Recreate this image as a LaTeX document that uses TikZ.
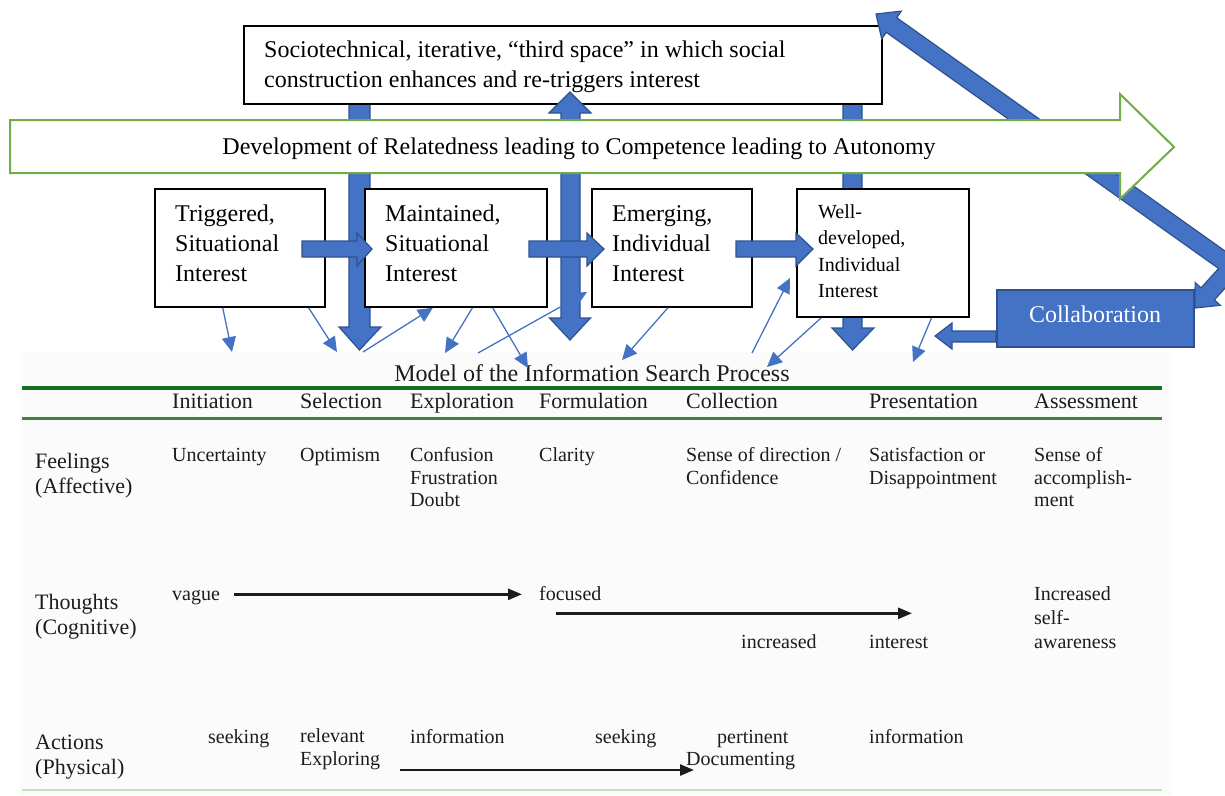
\documentclass[tikz,border=0pt]{standalone}
\usepackage{fontspec}
\setmainfont{Liberation Serif}
\usetikzlibrary{arrows.meta,calc}
\definecolor{arrblue}{RGB}{68,114,196}
\definecolor{arrborder}{RGB}{47,82,143}
\definecolor{relgreen}{RGB}{112,173,71}
\definecolor{rulegreen}{RGB}{22,112,30}
\definecolor{palegreen}{RGB}{185,228,185}
\definecolor{tablebg}{RGB}{251,251,251}
\definecolor{ink}{RGB}{28,28,28}

\begin{document}
% multi-line nodes are anchored at the baseline of their last line
\begin{tikzpicture}[x=1pt,y=-1pt,
  stagebox/.style={draw=black,line width=1.8pt,fill=white,inner sep=0pt,anchor=north west},
  blockarrow/.style={fill=arrblue,draw=arrborder,line width=1.2pt,line join=miter},
  thinarrow/.style={draw=arrblue,line width=1.3pt,-{Triangle[length=15pt,width=14pt]}},
  flowarrow/.style={draw=ink,line width=2.6pt,-{Triangle[length=14pt,width=11pt]}},
  boxtext/.style={anchor=base west,inner sep=0pt,align=left,font=\fontsize{24}{30}\selectfont},
  smallboxtext/.style={anchor=base west,inner sep=0pt,align=left,font=\fontsize{20}{26.5}\selectfont},
  headtext/.style={anchor=base west,inner sep=0pt,text=ink,font=\fontsize{22}{25}\selectfont},
  rowlabel/.style={anchor=base west,inner sep=0pt,align=left,text=ink,font=\fontsize{22}{25}\selectfont},
  celltext/.style={anchor=base west,inner sep=0pt,align=left,text=ink,font=\fontsize{20}{22.5}\selectfont},
]
\useasboundingbox (0,0) rectangle (1225,795);
\clip (0,0) rectangle (1225,795);

% ---------- Information Search Process table ----------
\fill[tablebg] (20,352) rectangle (1172,795);
\node[anchor=base,inner sep=0pt,text=ink,font=\fontsize{24}{28}\selectfont] (isptitle) at (592,381) {Model of the Information Search Process};
\draw[rulegreen,line width=4pt] (22,388) -- (1162,388);
\draw[rulegreen!85,line width=2.6pt] (22,418.5) -- (1162,418.5);
\draw[palegreen,line width=1.6pt] (22,790) -- (1162,790);

\node[headtext] (hinit) at (172,408) {Initiation};
\node[headtext] (hsel)  at (300,408) {Selection};
\node[headtext] (hexp)  at (410,408) {Exploration};
\node[headtext] (hform) at (539,408) {Formulation};
\node[headtext] (hcoll) at (686,408) {Collection};
\node[headtext] (hpres) at (869,408) {Presentation};
\node[headtext] (hass)  at (1034,408) {Assessment};

% feelings
\node[rowlabel] (lfeel) at (35,493) {Feelings\\(Affective)};
\node[celltext] (f1) at (172,461.7) {Uncertainty};
\node[celltext] (f2) at (300,461.7) {Optimism};
\node[celltext] (f3) at (410,506.7) {Confusion\\Frustration\\Doubt};
\node[celltext] (f4) at (539,461.7) {Clarity};
\node[celltext] (f5) at (686,484.2) {Sense of direction /\\Confidence};
\node[celltext] (f6) at (869,484.2) {Satisfaction or\\Disappointment};
\node[celltext] (f7) at (1034,506.7) {Sense of\\accomplish-\\ment};

% thoughts
\node[rowlabel] (lthink) at (35,634) {Thoughts\\(Cognitive)};
\node[celltext] (vague) at (172,600.7) {vague};
\node[celltext] (focused) at (539,600.7) {focused};
\node[celltext] (incr) at (741,648.3) {increased};
\node[celltext] (intr) at (869,648.3) {interest};
\node[celltext,font=\fontsize{20}{23.8}\selectfont] (aware) at (1034,648.3) {Increased\\self-\\awareness};
\coordinate (vagueS) at (234,594.3);
\coordinate (vagueE) at (522,594.3);
\coordinate (focS) at (556,613.3);
\coordinate (focE) at (912,613.3);
\draw[flowarrow] (vagueS) -- (vagueE);
\draw[flowarrow] (focS) -- (focE);

% actions
\node[rowlabel] (lact) at (35,774.3) {Actions\\(Physical)};
\node[celltext] (a1) at (208,743.3) {seeking};
\node[celltext] (a2) at (300,765.3) {relevant\\Exploring};
\node[celltext] (a3) at (410,743.3) {information};
\node[celltext] (a4) at (595,743.3) {seeking};
\node[celltext] (a5) at (717,743.3) {pertinent};
\node[celltext] (a6) at (686,765.3) {Documenting};
\node[celltext] (a7) at (869,743.3) {information};
\coordinate (actS) at (400,770);
\coordinate (actE) at (694,770);
\draw[flowarrow] (actS) -- (actE);

% ---------- upper interest model ----------
% downward arrows running behind the third-space box
\draw[blockarrow] (349,95) -- (370,95) -- (370,327) -- (381,327) -- (359.5,350) -- (339,327) -- (349,327) -- cycle;
\draw[blockarrow] (843,95) -- (862,95) -- (862,328) -- (874,328) -- (852.5,350) -- (832,328) -- (843,328) -- cycle;

\node[stagebox,minimum width=638pt,minimum height=78pt] (third) at (243,25) {};
\node[boxtext] (thirdtxt) at (264,87) {Sociotechnical, iterative, “third space” in which social\\construction enhances and re-triggers interest};

% two-way arrow between third space and the search process
\draw[blockarrow] (570,92) -- (591,113) -- (580,113) -- (580,318) -- (590.5,318) -- (570,340)
  -- (549.5,318) -- (561,318) -- (561,113) -- (549,113) -- cycle;

% collaboration
\node[fill=arrblue,draw=arrborder,line width=1.5pt,minimum width=197pt,minimum height=57pt,anchor=north west,inner sep=0pt] (collab) at (996,289) {};
\node[anchor=base,inner sep=0pt,text=white,font=\fontsize{24}{28}\selectfont] (collabtxt) at (1095,322) {Collaboration};
\draw[blockarrow] (996,331) -- (952,331) -- (952,323) -- (935,336) -- (952,349) -- (952,342) -- (996,342) -- cycle;

% bent two-headed arrow from collaboration back to the third space
\draw[blockarrow] (876,14) -- (901.3,11.1) -- (896.7,17.7) -- (1245.4,265.5) -- (1214.4,299.9) -- (1220.3,305.3)
  -- (1195,308) -- (1195.1,282.5) -- (1201.0,287.9) -- (1218.6,268.5) -- (886.3,32.3) -- (881.7,38.9) -- cycle;

% relatedness -> competence -> autonomy
\draw[draw=relgreen,line width=2pt,fill=white,line join=miter] (10,120) -- (1120,120) -- (1120,94) -- (1174,147)
  -- (1120,199) -- (1120,173) -- (10,173) -- cycle;
\node[anchor=base,inner sep=0pt,font=\fontsize{24}{28}\selectfont] (reltxt) at (579,154) {Development of Relatedness leading to Competence leading to Autonomy};

% interest phases
\node[stagebox,minimum width=170pt,minimum height=118pt] (trig) at (154,188) {};
\node[stagebox,minimum width=182pt,minimum height=118pt] (maint) at (364,188) {};
\node[stagebox,minimum width=160pt,minimum height=118pt] (emer) at (591,188) {};
\node[stagebox,minimum width=172pt,minimum height=128pt] (well) at (796,188) {};
\node[boxtext] (trigtxt) at (175,281) {Triggered,\\Situational\\Interest};
\node[boxtext] (mainttxt) at (385,281) {Maintained,\\Situational\\Interest};
\node[boxtext] (emertxt) at (612,281) {Emerging,\\Individual\\Interest};
\node[smallboxtext] (welltxt) at (818,297.5) {Well-\\developed,\\Individual\\Interest};

% progression between phases
\draw[blockarrow] (302,241) -- (357,241) -- (357,233) -- (372,249) -- (357,266) -- (357,257) -- (302,257) -- cycle;
\draw[blockarrow] (529,241) -- (587,241) -- (587,233) -- (604,249) -- (587,266) -- (587,257) -- (529,257) -- cycle;
\draw[blockarrow] (736,241) -- (796,241) -- (796,233) -- (813,249) -- (796,266) -- (796,257) -- (736,257) -- cycle;

% links between phases and search stages
\coordinate (p1) at (232,352);
\coordinate (p2) at (337,352);
\coordinate (p3) at (363,352);
\coordinate (p4) at (445,353);
\coordinate (p5) at (528,368);
\coordinate (p6) at (478,353);
\coordinate (p6e) at (587,292);
\coordinate (p7) at (622,360);
\coordinate (p8) at (752,353);
\coordinate (p8e) at (790,278);
\coordinate (p9) at (767,367);
\coordinate (p10) at (913,362);
\draw[thinarrow] ($(trig.south west)!0.40!(trig.south east)$) -- (p1);
\draw[thinarrow] ($(trig.south west)!0.90!(trig.south east)$) -- (p2);
\draw[thinarrow] (p3) -- ($(maint.south west)!0.375!(maint.south east)$);
\draw[thinarrow] ($(maint.south west)!0.59!(maint.south east)$) -- (p4);
\draw[thinarrow] ($(maint.south west)!0.70!(maint.south east)$) -- (p5);
\draw[thinarrow] (p6) -- (p6e);
\draw[thinarrow] ($(emer.south west)!0.475!(emer.south east)$) -- (p7);
\draw[thinarrow] (p8) -- (p8e);
\draw[thinarrow] ($(well.south west)!0.145!(well.south east)$) -- (p9);
\draw[thinarrow] ($(well.south west)!0.78!(well.south east)$) -- (p10);
\end{tikzpicture}
\end{document}
